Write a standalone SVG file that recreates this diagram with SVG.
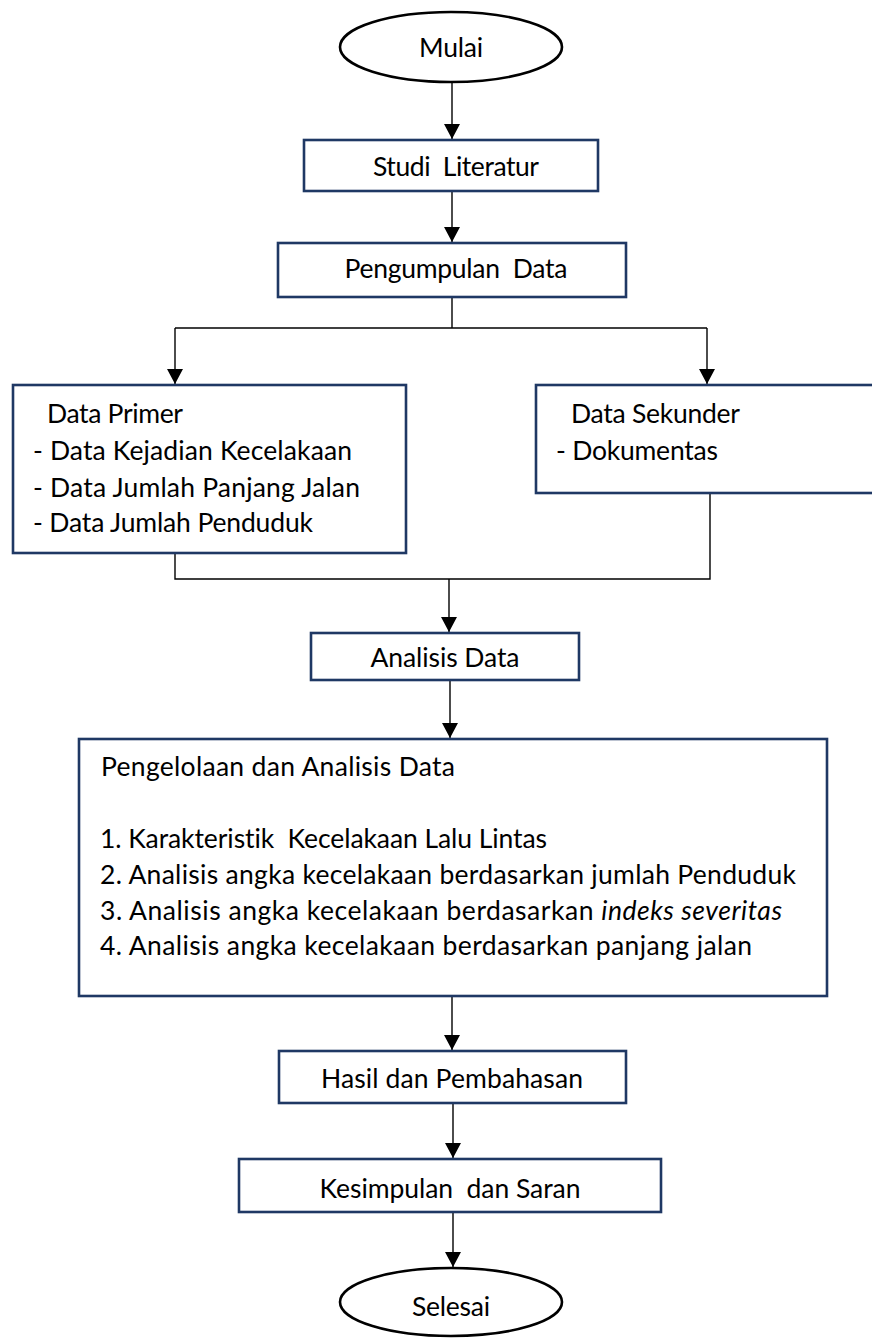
<svg xmlns="http://www.w3.org/2000/svg" width="872" height="1338" viewBox="0 0 872 1338">
<defs>
<marker id="ah" markerWidth="16" markerHeight="16" refX="15" refY="8" orient="auto" markerUnits="userSpaceOnUse" viewBox="0 0 16 16">
<path d="M0,0 L15,8 L0,16 Z" fill="#000"/>
</marker>
<style>
.box{fill:#fff;stroke:#1f3864;stroke-width:2.6}
.oval{fill:#fff;stroke:#000;stroke-width:2.6}
.ln{fill:none;stroke:#000;stroke-width:1.4}
.arr{fill:none;stroke:#000;stroke-width:1.4;marker-end:url(#ah)}
text{font-family:Lato,"Noto Sans","Liberation Sans",sans-serif;font-size:26.5px;fill:#000;font-variant-ligatures:none}
.c{text-anchor:middle}
</style>
</defs>
<rect width="872" height="1338" fill="#fff"/>
<g id="connectors">
<line class="arr" x1="452" y1="82" x2="452" y2="139"/>
<line class="arr" x1="452" y1="191" x2="452" y2="242"/>
<polyline class="ln" points="452,297 452,328"/>
<polyline class="arr" points="175,328 175,384"/>
<polyline class="ln" points="175,328 707,328"/>
<polyline class="arr" points="707,328 707,384"/>
<polyline class="ln" points="175,553 175,579 710,579 710,493"/>
<line class="arr" x1="449" y1="579" x2="449" y2="632"/>
<line class="arr" x1="450" y1="681" x2="450" y2="738"/>
<line class="arr" x1="452" y1="996" x2="452" y2="1050"/>
<line class="arr" x1="453" y1="1104" x2="453" y2="1158"/>
<line class="arr" x1="453" y1="1212" x2="453" y2="1267"/>
</g>
<g id="mulai">
<ellipse class="oval" cx="451" cy="47" rx="111" ry="35"/>
<text class="c" x="451" y="57" textLength="64">Mulai</text>
</g>
<g id="studi">
<rect class="box" x="304" y="140" width="294" height="51"/>
<text class="c" x="456" y="176" textLength="166" xml:space="preserve">Studi  Literatur</text>
</g>
<g id="pengumpulan">
<rect class="box" x="278" y="243" width="348" height="54"/>
<text class="c" x="456" y="278" textLength="223" xml:space="preserve">Pengumpulan  Data</text>
</g>
<g id="primer">
<rect class="box" x="13" y="385" width="393" height="168"/>
<text x="47" y="423" textLength="136">Data Primer</text>
<text x="33" y="460" textLength="319">- Data Kejadian Kecelakaan</text>
<text x="33" y="497" textLength="327">- Data Jumlah Panjang Jalan</text>
<text x="33" y="532" textLength="280">- Data Jumlah Penduduk</text>
</g>
<g id="sekunder">
<rect class="box" x="536" y="385" width="350" height="108"/>
<text x="571" y="423" textLength="169">Data Sekunder</text>
<text x="556" y="460" textLength="162">- Dokumentas</text>
</g>
<g id="analisis">
<rect class="box" x="311" y="633" width="268" height="47"/>
<text class="c" x="445" y="667" textLength="149">Analisis Data</text>
</g>
<g id="pengelolaan">
<rect class="box" x="79" y="739" width="748" height="257"/>
<text x="101" y="776" textLength="354">Pengelolaan dan Analisis Data</text>
<text x="100" y="848" textLength="447" xml:space="preserve">1. Karakteristik  Kecelakaan Lalu Lintas</text>
<text x="100" y="884" textLength="696">2. Analisis angka kecelakaan berdasarkan jumlah Penduduk</text>
<text x="100" y="920" textLength="682">3. Analisis angka kecelakaan berdasarkan <tspan font-style="italic">indeks severitas</tspan></text>
<text x="100" y="955" textLength="652">4. Analisis angka kecelakaan berdasarkan panjang jalan</text>
</g>
<g id="hasil">
<rect class="box" x="279" y="1051" width="347" height="52"/>
<text class="c" x="452" y="1088" textLength="262">Hasil dan Pembahasan</text>
</g>
<g id="kesimpulan">
<rect class="box" x="239" y="1159" width="422" height="53"/>
<text class="c" x="450" y="1198" textLength="261" xml:space="preserve">Kesimpulan  dan Saran</text>
</g>
<g id="selesai">
<ellipse class="oval" cx="451" cy="1302" rx="111" ry="34"/>
<text class="c" x="451" y="1316" textLength="78">Selesai</text>
</g>
</svg>
